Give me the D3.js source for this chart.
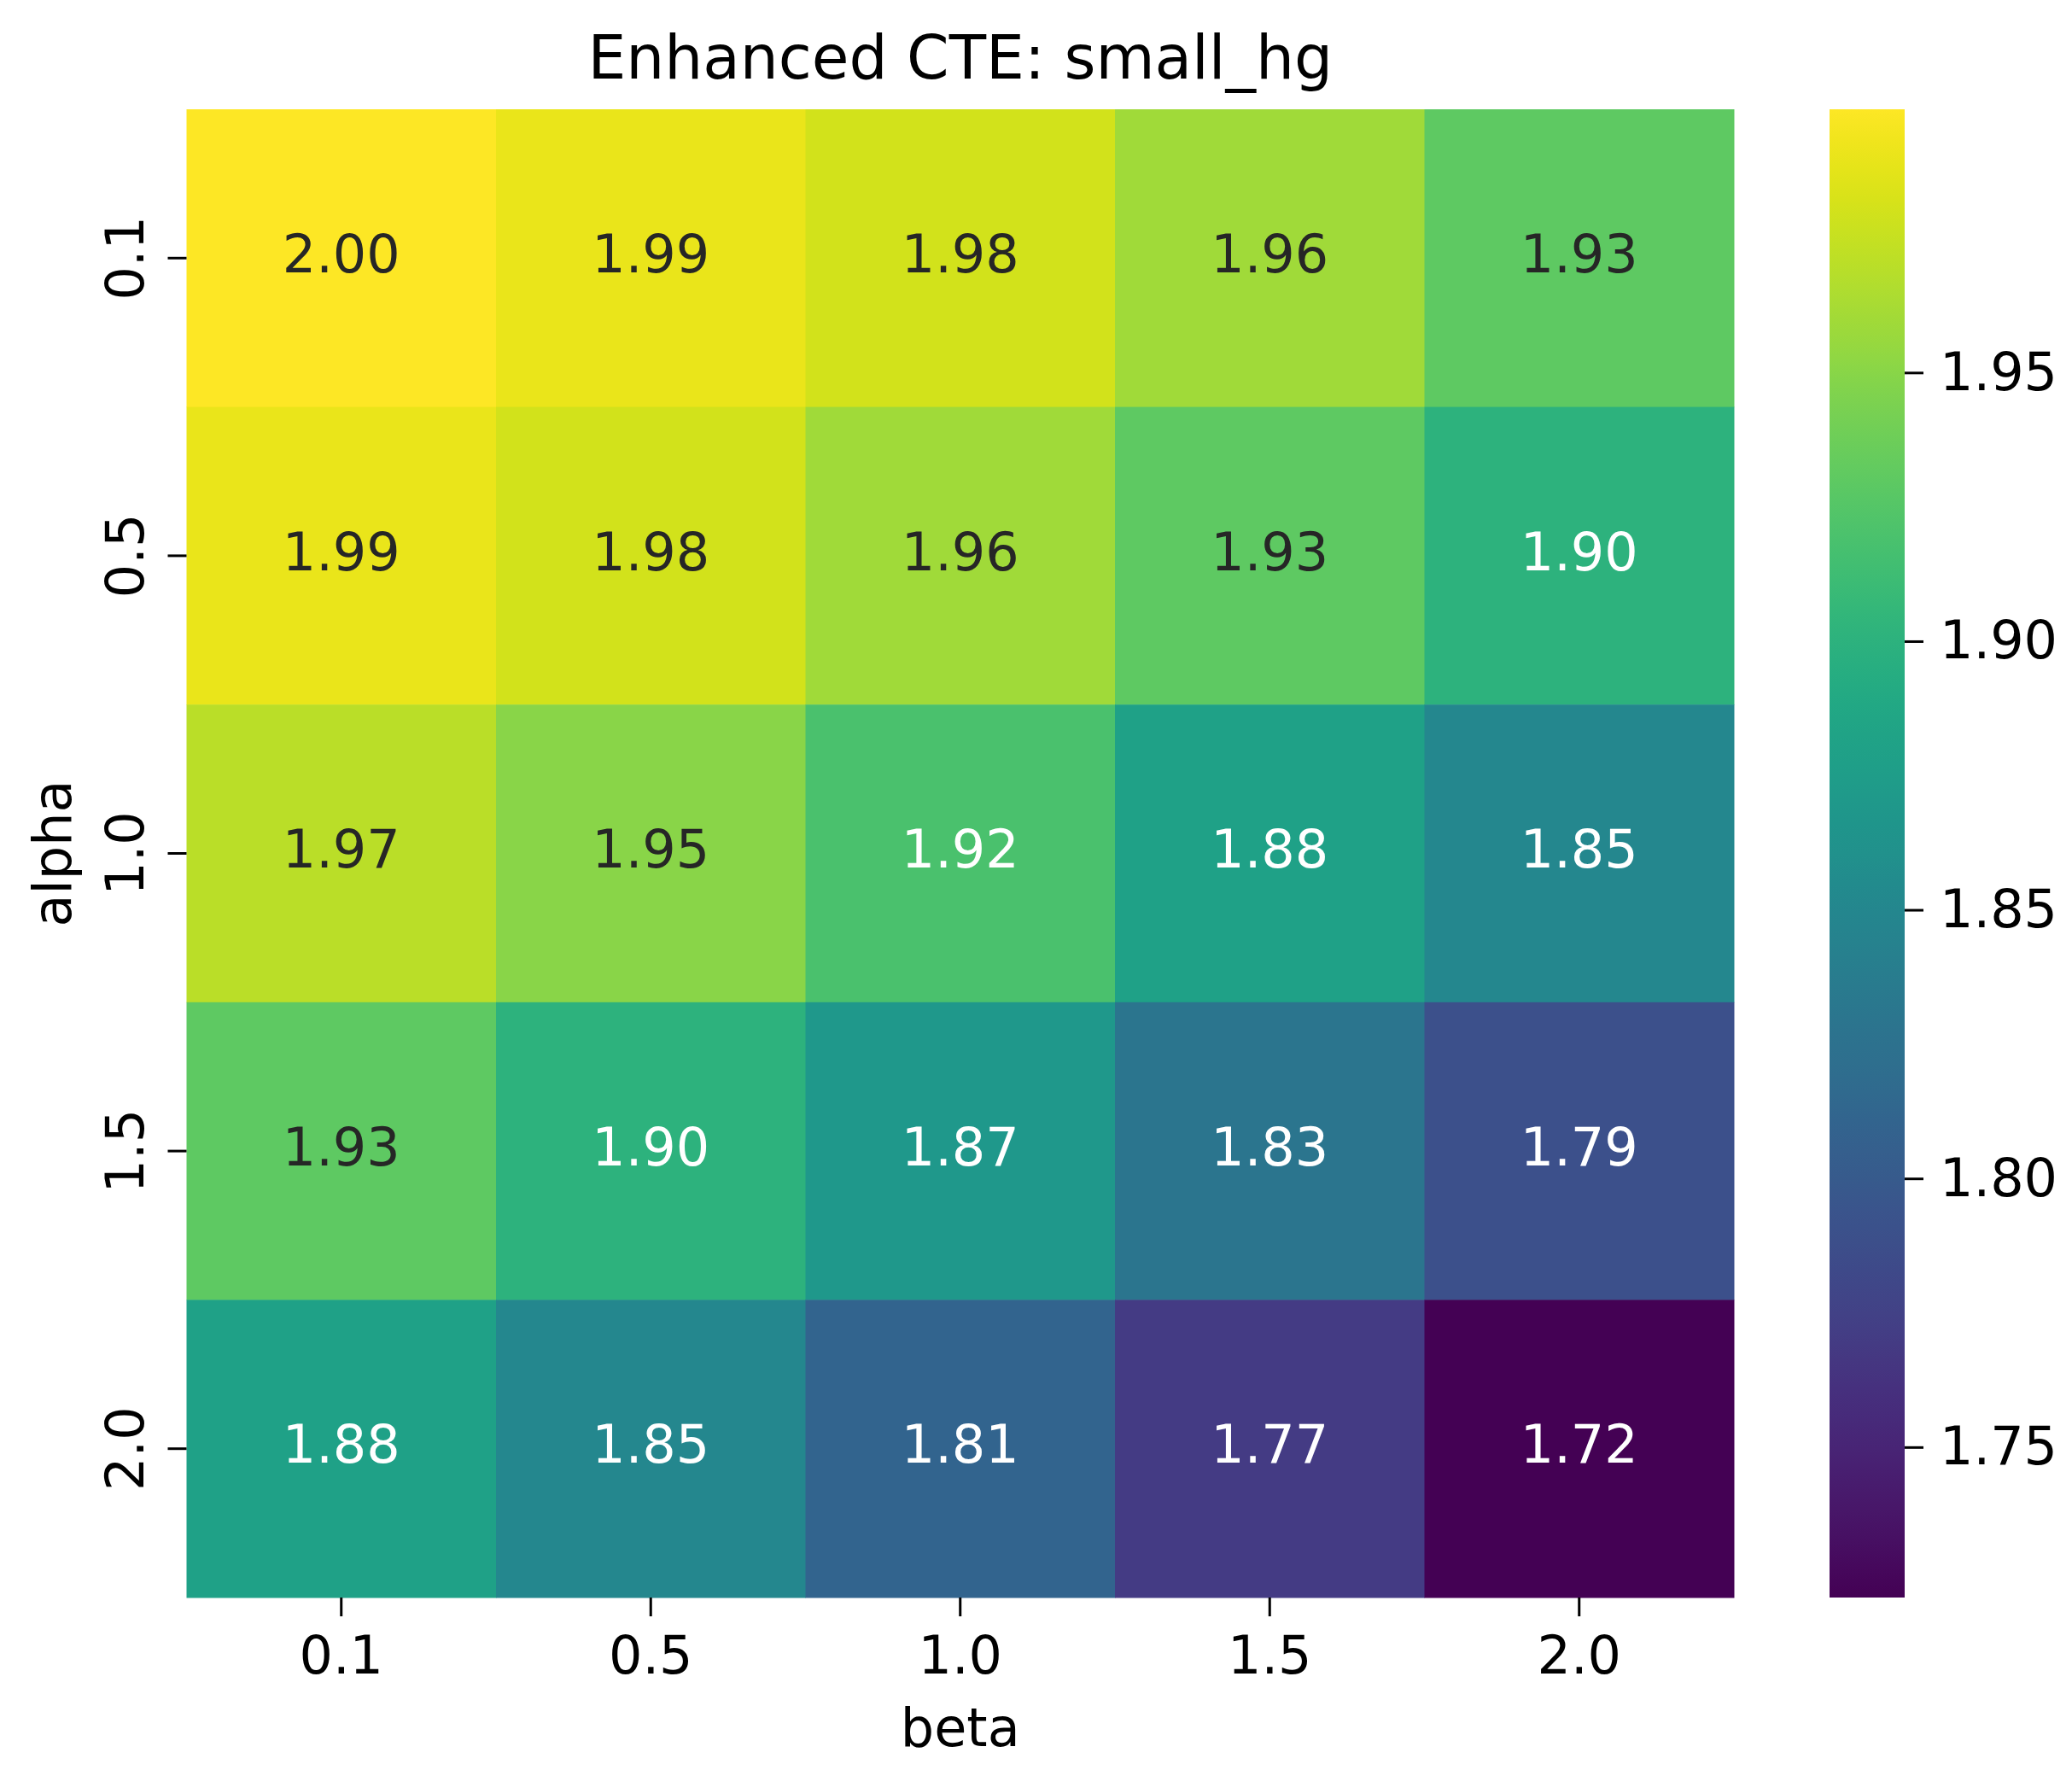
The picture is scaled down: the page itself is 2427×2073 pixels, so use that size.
<!DOCTYPE html>
<html>
<head>
<meta charset="utf-8">
<script src="https://cdn.jsdelivr.net/npm/d3@7"></script>
<style>
  body { margin: 0; background: #fff; }
  text { font-family: "DejaVu Sans", sans-serif; }
</style>
</head>
<body>
<svg id="chart" width="2427" height="2073"></svg>
<script>
// heatmap data: rows are alpha, columns are beta
var betas = ['0.1', '0.5', '1.0', '1.5', '2.0'];
var alphas = ['0.1', '0.5', '1.0', '1.5', '2.0'];
var cte = [
  [1.999, 1.99, 1.98, 1.96, 1.93],
  [1.99, 1.98, 1.96, 1.93, 1.90],
  [1.97, 1.95, 1.92, 1.88, 1.85],
  [1.93, 1.90, 1.87, 1.83, 1.79],
  [1.88, 1.85, 1.81, 1.77, 1.722]
];
var cbTicks = [1.75, 1.80, 1.85, 1.90, 1.95];

// note: "top" is taken by window.top, so plot edges get their own names
var svg = d3.select('#chart')
  , plotL = 218.5, plotR = 2031, plotT = 128, plotB = 1871
  , cbL = 2143, cbR = 2231
  , fs = 62;

var cells = [];
cte.forEach(function(row, i) {
  row.forEach(function(v, j) { cells.push({ alpha: alphas[i], beta: betas[j], value: v }); });
});

var vmin = d3.min(cells, function(d) { return d.value; })
  , vmax = d3.max(cells, function(d) { return d.value; });

var x = d3.scaleBand().domain(betas).range([plotL, plotR]);
var y = d3.scaleBand().domain(alphas).range([plotT, plotB]);
var color = d3.scaleSequential(d3.interpolateViridis).domain([vmin, vmax]);

// seaborn-style text colour picked from cell luminance
function textColor(c) {
  var rgb = d3.rgb(c);
  var lin = [rgb.r, rgb.g, rgb.b].map(function(v) {
    v = v / 255;
    return v <= 0.03928 ? v / 12.92 : Math.pow((v + 0.055) / 1.055, 2.4);
  });
  var lum = 0.2126 * lin[0] + 0.7152 * lin[1] + 0.0722 * lin[2];
  return lum > 0.408 ? '#262626' : '#ffffff';
}

svg.selectAll('rect.cell')
  .data(cells)
  .enter().append('rect')
  .attr('class', 'cell')
  .attr('x', function(d) { return x(d.beta); })
  .attr('y', function(d) { return y(d.alpha); })
  .attr('width', x.bandwidth() + 0.5)
  .attr('height', y.bandwidth() + 0.5)
  .style('fill', function(d) { return color(d.value); });

svg.selectAll('text.annot')
  .data(cells)
  .enter().append('text')
  .attr('class', 'annot')
  .attr('x', function(d) { return x(d.beta) + x.bandwidth() / 2; })
  .attr('y', function(d) { return y(d.alpha) + y.bandwidth() / 2 + fs * 0.27; })
  .attr('text-anchor', 'middle')
  .style('font-size', fs + 'px')
  .style('fill', function(d) { return textColor(color(d.value)); })
  .text(function(d) { return d3.format('.2f')(d.value); });

// x axis
var xAxis = svg.append('g')
  .attr('transform', 'translate(0,' + plotB + ')')
  .call(d3.axisBottom(x).tickSize(22).tickPadding(23));
xAxis.select('.domain').remove();
xAxis.selectAll('line').attr('stroke', '#000').attr('stroke-width', 3);
xAxis.selectAll('text').style('font-size', fs + 'px').attr('fill', '#000');

// y axis, labels rotated like seaborn
var yAxis = svg.append('g')
  .attr('transform', 'translate(' + plotL + ',0)')
  .call(d3.axisLeft(y).tickSize(22));
yAxis.select('.domain').remove();
yAxis.selectAll('line').attr('stroke', '#000').attr('stroke-width', 3);
yAxis.selectAll('text')
  .attr('x', null).attr('dy', null)
  .attr('text-anchor', 'middle')
  .attr('transform', 'translate(-50.5,0) rotate(-90)')
  .style('font-size', fs + 'px').attr('fill', '#000');

// colour bar
var cbY = d3.scaleLinear().domain([vmin, vmax]).range([plotB, plotT]);
var grad = svg.append('defs').append('linearGradient')
  .attr('id', 'cbGrad')
  .attr('x1', 0).attr('y1', 1).attr('x2', 0).attr('y2', 0);
grad.selectAll('stop')
  .data(d3.range(0, 1.0001, 0.02))
  .enter().append('stop')
  .attr('offset', function(d) { return d; })
  .attr('stop-color', function(d) { return d3.interpolateViridis(d); });

svg.append('rect')
  .attr('x', cbL)
  .attr('y', plotT)
  .attr('width', cbR - cbL)
  .attr('height', plotB - plotT)
  .style('fill', 'url(#cbGrad)');

var cbAxis = svg.append('g')
  .attr('transform', 'translate(' + cbR + ',0)')
  .call(d3.axisRight(cbY).tickValues(cbTicks).tickFormat(d3.format('.2f')).tickSize(22).tickPadding(19));
cbAxis.select('.domain').remove();
cbAxis.selectAll('line').attr('stroke', '#000').attr('stroke-width', 3);
cbAxis.selectAll('text').style('font-size', fs + 'px').attr('fill', '#000');

// titles
svg.append('text')
  .attr('x', (plotL + plotR) / 2)
  .attr('y', 92)
  .attr('text-anchor', 'middle')
  .style('font-size', '71px')
  .text('Enhanced CTE: small_hg');

svg.append('text')
  .attr('x', (plotL + plotR) / 2)
  .attr('y', 2045)
  .attr('text-anchor', 'middle')
  .style('font-size', fs + 'px')
  .text('beta');

svg.append('text')
  .attr('transform', 'translate(83,' + (plotT + plotB) / 2 + ') rotate(-90)')
  .attr('text-anchor', 'middle')
  .style('font-size', fs + 'px')
  .text('alpha');
</script>
</body>
</html>
